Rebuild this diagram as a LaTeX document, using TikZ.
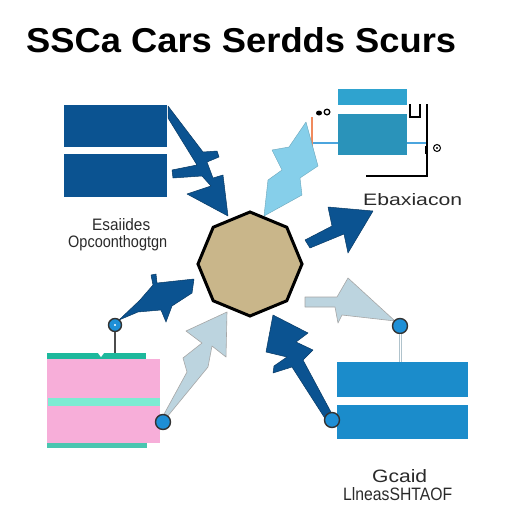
\documentclass[tikz,border=0pt]{standalone}
\usepackage{fontspec}
\setmainfont{Liberation Sans}
\usetikzlibrary{shapes.geometric}
\definecolor{dblue}{HTML}{0B5391}
\definecolor{lblue}{HTML}{86CFEA}
\definecolor{pblue}{HTML}{BCD4DF}
\definecolor{tanc}{HTML}{C9B68A}
\definecolor{trbox}{HTML}{2FA3CF}
\definecolor{brbox}{HTML}{1B8CCB}
\definecolor{pinkc}{HTML}{F7AED9}
\definecolor{tealc}{HTML}{1DB89C}
\definecolor{mintc}{HTML}{7DEBD3}
\definecolor{dotc}{HTML}{1E8FD6}
\definecolor{txtc}{HTML}{2A2A2A}
\definecolor{orc}{HTML}{F08A5D}
\begin{document}
\begin{tikzpicture}[x=1pt,y=-1pt,
  boxn/.style={inner sep=0, outer sep=0, anchor=north west, draw=none},
  dotn/.style={circle, fill=dotc, draw=black!80, line width=1.4pt, minimum size=#1, inner sep=0},
  lbl/.style={inner sep=0, anchor=base west, text=txtc},
  darrow/.style={fill=dblue, draw=dblue!70!black, line width=0.5pt, line join=round},
  larrow/.style={fill=lblue, draw=lblue!80!black, line width=0.4pt, line join=round},
  parrow/.style={fill=pblue, draw=gray!70, line width=0.6pt, line join=round}]
\useasboundingbox (0,0) rectangle (512,512);
\fill[white] (0,0) rectangle (512,512);

% title
\node[inner sep=0, anchor=base west] (title) at (26,52) {\resizebox{430pt}{25pt}{\bfseries SSCa Cars Serdds Scurs}};

% top-left boxes
\node[boxn, fill=dblue, minimum width=103pt, minimum height=42pt] (tl1) at (64,105) {};
\node[boxn, fill=dblue, minimum width=103pt, minimum height=43pt] (tl2) at (64,154) {};
\node[lbl] (t1a) at (92,230) {\resizebox{58pt}{12pt}{Esaiides}};
\node[lbl] (t1b) at (68,247) {\resizebox{99pt}{12pt}{Opcoonthogtgn}};

% top-right boxes and lines
\node[boxn, fill=trbox, minimum width=69pt, minimum height=16pt] (tr1) at (338,89) {};
\node[boxn, fill=trbox!90!black, minimum width=69pt, minimum height=41pt] (tr2) at (338,114) {};
\draw[draw=dotc!80!white, line width=1.5pt] (312,143) -- (tr2.west |- 0,143);
\draw[draw=dotc!80!white, line width=1.5pt] (tr2.east |- 0,143) -- (427,143);
\draw[orc, line width=1.2pt] (312,117) -- (312,167);
\fill[black] (319,113) ellipse (3pt and 2.5pt);
\draw[black, line width=1.3pt] (327,112) circle (2.8pt);
\draw[black, line width=1.3pt] (410,104) -- (410,117) -- (420,117) -- (420,104);
\draw[black, line width=1.3pt] (427,104) -- (427,176) -- (366,176);
\draw[black, line width=1pt] (437,148) circle (3.5pt);
\fill[black] (437,148) circle (1.2pt);
\draw[black, line width=1pt] (425,146) -- (425,154);
\node[lbl] (t2) at (363,205) {\resizebox{99pt}{12pt}{Ebaxiacon}};

% hub
\node[regular polygon, regular polygon sides=8, shape border rotate=22.5, minimum size=104pt,
      fill=tanc, draw=black, line width=3pt, inner sep=0] (hub) at (250,264) {};

% bottom-left box
\node[boxn, fill=tealc, minimum width=99pt, minimum height=7pt] (blt) at (47,353) {};
\fill[white] (98,353) -- (104,353) -- (101,357) -- cycle;
\node[boxn, fill=pinkc, minimum width=113pt, minimum height=84pt] (blp) at (47,359) {};
\node[boxn, fill=mintc, minimum width=112pt, minimum height=8pt] (blm) at (48,398) {};
\node[boxn, fill=tealc!80!white, minimum width=100pt, minimum height=5pt] (blb) at (47,443) {};

% bottom-right boxes
\node[boxn, fill=brbox, minimum width=131pt, minimum height=35pt] (br1) at (337,362) {};
\node[boxn, fill=brbox, minimum width=131pt, minimum height=34pt] (br2) at (337,405) {};
\node[lbl] (t3a) at (372,482) {\resizebox{55pt}{13pt}{Gcaid}};
\node[lbl] (t3b) at (343,500) {\resizebox{109pt}{13pt}{LlneasSHTAOF}};

% arrows
\draw[darrow] (168,106) -- (203,152) -- (217,151) -- (219,157) -- (207,162) -- (213,178) -- (223,175)
  -- (228,216) -- (187,194) -- (211,186) -- (202,176) -- (173,178) -- (172,170) -- (197,165) -- (168,118) -- cycle;
\draw[larrow] (306,122) -- (318,166) -- (300,178) -- (302,195) -- (264,216) -- (268,180)
  -- (282,170) -- (272,150) -- (289,147) -- cycle;
\draw[darrow] (305,240) -- (332,226) -- (328,207) -- (373,211) -- (348,253) -- (344,234) -- (310,248) -- cycle;
\draw[parrow] (305,297) -- (337,297) -- (348,278) -- (395,321) -- (342,315) -- (338,323) -- (335,307) -- (305,307) -- cycle;
\draw[darrow] (273,315) -- (308,333) -- (296,342) -- (313,350) -- (303,360) -- (332,414) -- (326,420)
  -- (292,367) -- (273,373) -- (274,366) -- (287,357) -- (266,352) -- cycle;
\draw[darrow] (119,320) -- (140,300) -- (153,285) -- (151,275) -- (156,274) -- (157,283) -- (194,279)
  -- (192,293) -- (172,306) -- (166,322) -- (161,310) -- (138,312) -- cycle;
\draw[parrow] (227,312) -- (226,357) -- (212,346) -- (208,367) -- (167,417) -- (163,416)
  -- (187,372) -- (183,358) -- (202,343) -- (186,331) -- cycle;

% dots
\node[dotn=13pt] (c1) at (115,325) {};
\node[dotn=15pt] (c2) at (163,422) {};
\node[dotn=15pt] (c3) at (400,326) {};
\node[dotn=15pt] (c4) at (332,420) {};
\fill[white] (c1) circle (1.2pt);
\draw[black!70, line width=1.5pt] (c1.south) -- (c1 |- blt.north);
\draw[pblue!80!gray, line width=3pt] (c3.south) -- (c3 |- br1.north);
\draw[white, line width=0.8pt] (c3.south) -- (c3 |- br1.north);
\end{tikzpicture}
\end{document}
